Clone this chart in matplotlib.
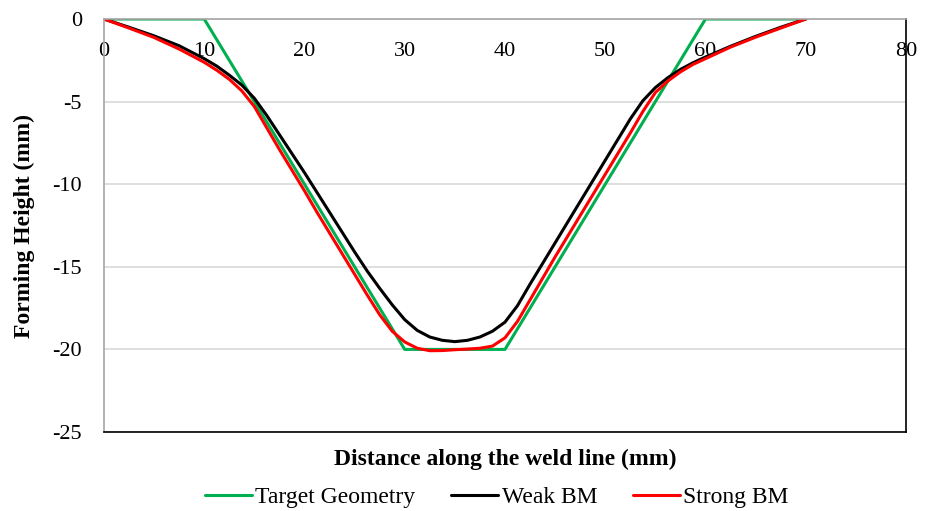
import matplotlib
matplotlib.use('Agg')
import matplotlib.pyplot as plt

# Datos
target_x = [0, 10, 30, 40, 60, 70]
target_y = [0, 0, -20, -20, 0, 0]

dist = [0, 2.5, 5, 7.5, 10, 11.25, 12.5, 13.75, 15, 16.25, 17.5, 18.75, 20,
        21.25, 22.5, 23.75, 25, 26.25, 27.5, 28.75, 30, 31.25, 32.5, 33.75, 35,
        36.25, 37.5, 38.75, 40, 41.25, 42.5, 43.75, 45, 46.25, 47.5, 48.75, 50,
        51.25, 52.5, 53.75, 55, 56.25, 57.5, 58.75, 60, 62.5, 65, 67.5, 70]
weak_bm = [0, -0.5, -1.02, -1.62, -2.4, -2.85, -3.4, -4.0, -4.8, -5.85, -7.0,
           -8.15, -9.3, -10.5, -11.7, -12.9, -14.1, -15.25, -16.3, -17.3, -18.2,
           -18.85, -19.25, -19.45, -19.53, -19.45, -19.25, -18.9, -18.35, -17.35,
           -16.05, -14.8, -13.55, -12.3, -11.05, -9.8, -8.55, -7.3, -6.05, -4.95,
           -4.15, -3.55, -3.05, -2.65, -2.3, -1.65, -1.05, -0.5, 0]
strong_bm = [0, -0.55, -1.12, -1.82, -2.62, -3.1, -3.65, -4.35, -5.3, -6.6, -7.9,
             -9.15, -10.4, -11.7, -12.95, -14.2, -15.45, -16.7, -17.9, -18.9,
             -19.55, -19.93, -20.08, -20.07, -20.02, -19.98, -19.93, -19.8, -19.3,
             -18.3, -17.0, -15.7, -14.4, -13.15, -11.9, -10.65, -9.4, -8.15, -6.9,
             -5.6, -4.45, -3.75, -3.2, -2.75, -2.4, -1.7, -1.1, -0.55, 0]

plt.rcParams['font.family'] = ['Liberation Serif', 'DejaVu Serif']
plt.rcParams['axes.unicode_minus'] = False

fig = plt.figure(figsize=(9.3, 5.11), dpi=100)
ax = fig.add_axes([0.1118, 0.1546, 0.8624, 0.8082])

kw = dict(linewidth=2.2, solid_joinstyle='round', solid_capstyle='round')
ax.plot(target_x, target_y, color='#00B050', label='Target Geometry', **kw)
ax.plot(dist, weak_bm, color='black', label='Weak BM', **kw)
ax.plot(dist, strong_bm, color='#FF0000', label='Strong BM', **kw)

ax.set_xlim(0, 80)
ax.set_ylim(-25, 0)
ax.set_xticks(range(0, 81, 10))
ax.set_yticks(range(-25, 1, 5))
ax.yaxis.grid(True, color='#D9D9D9', linewidth=1.2)
ax.set_axisbelow(True)

# eje x en y = 0 (arriba), etiquetas debajo de la linea
ax.xaxis.set_ticks_position('top')
ax.tick_params(axis='x', length=0, labelsize=16, pad=-30, labeltop=True, labelbottom=False)
ax.tick_params(axis='y', length=0, labelsize=16, pad=16)
ax.xaxis.set_label_position('bottom')

ax.set_xlabel('Distance along the weld line (mm)', fontsize=17, fontweight='bold', labelpad=12)
ax.set_ylabel('Forming Height (mm)', fontsize=17, fontweight='bold', labelpad=12)

ax.spines['left'].set_color('#A6A6A6')
ax.spines['top'].set_color('#A6A6A6')
ax.spines['right'].set_color('black')
ax.spines['bottom'].set_color('black')
for s in ax.spines.values():
    s.set_linewidth(1.2)

fig.legend(loc='center', bbox_to_anchor=(0.534, 0.027), ncol=3, frameon=False,
           fontsize=17, handlelength=2.0, columnspacing=1.5, handletextpad=0.15)

plt.savefig('out.png', dpi=100)
plt.close()
